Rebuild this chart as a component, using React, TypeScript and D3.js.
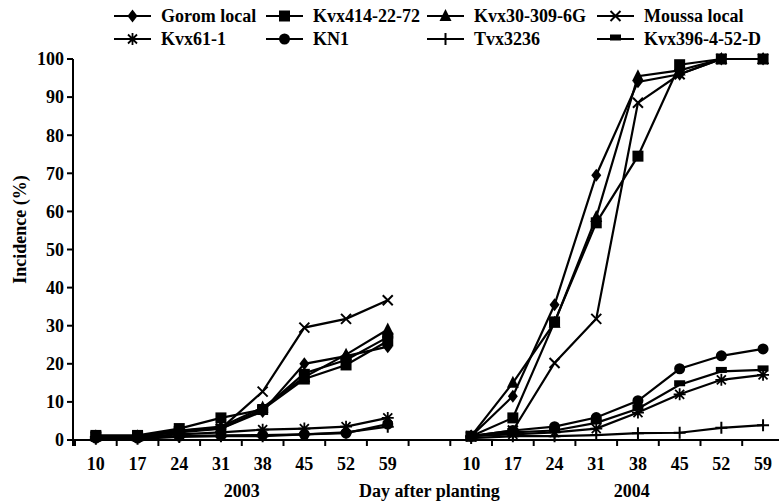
import { useEffect, useRef } from "react";
import * as d3 from "d3";

// days after planting, shown twice (2003 block, gap, 2004 block)
const days = [10, 17, 24, 31, 38, 45, 52, 59];
const years = ["2003", "2004"];
const yTicks = [0, 10, 20, 30, 40, 50, 60, 70, 80, 90, 100];

const names = [
  "Gorom local",
  "Kvx414-22-72",
  "Kvx30-309-6G",
  "Moussa local",
  "Kvx61-1",
  "KN1",
  "Tvx3236",
  "Kvx396-4-52-D",
];
const markers = ["diamond", "square", "triangle", "x", "asterisk", "circle", "plus", "dash"];

// incidence (%) per variety, 2003
const gorom2003 = [1, 1, 2.5, 3, 7.5, 20, 22, 24.5];
const kvx414_2003 = [1.2, 1.2, 3, 5.8, 8, 16, 19.7, 26];
const kvx30_2003 = [1, 1, 2.5, 3.5, 8.5, 16.5, 22.4, 29];
const moussa2003 = [1, 1, 2, 3, 12.7, 29.5, 31.8, 36.7];
const kvx61_2003 = [0.8, 0.8, 1.5, 2, 2.7, 3, 3.5, 5.8];
const kn1_2003 = [0.5, 0.5, 1, 1.2, 1.3, 1.5, 1.8, 4.2];
const tvx2003 = [0.3, 0.3, 0.8, 1, 1, 1.5, 2, 3.5];
const kvx396_2003 = [1, 1, 2.5, 3, 8, 17.5, 21, 27];

// incidence (%) per variety, 2004
const gorom2004 = [1, 11.5, 35.5, 69.5, 94, 96, 100, 100];
const kvx414_2004 = [1, 5.8, 31, 57, 74.5, 98.5, 100, 100];
const kvx30_2004 = [1, 15, 30.8, 58.5, 95.5, 97, 100, 100];
const moussa2004 = [1, 2.5, 20.2, 31.8, 88.5, 96, 100, 100];
const kvx61_2004 = [1, 1.5, 2, 3, 7.2, 12, 15.8, 17.1];
const kn1_2004 = [1, 2.5, 3.5, 5.9, 10.3, 18.7, 22.1, 23.9];
const tvx2004 = [0.5, 1, 1, 1.3, 1.8, 1.9, 3.2, 3.9];
const kvx396_2004 = [1, 2, 2.5, 4.5, 8.2, 14.5, 18, 18.4];

const values2003 = [gorom2003, kvx414_2003, kvx30_2003, moussa2003, kvx61_2003, kn1_2003, tvx2003, kvx396_2003];
const values2004 = [gorom2004, kvx414_2004, kvx30_2004, moussa2004, kvx61_2004, kn1_2004, tvx2004, kvx396_2004];

const FONT = "Times New Roman, Liberation Serif, DejaVu Serif, serif";

function drawMarker(g: d3.Selection<SVGGElement, unknown, null, undefined>, kind: string) {
  if (kind === "diamond") {
    g.append("path").attr("d", "M0,-6.5L5,0L0,6.5L-5,0Z").attr("fill", "#000");
  } else if (kind === "square") {
    g.append("rect").attr("x", -5.5).attr("y", -5.5).attr("width", 11).attr("height", 11).attr("fill", "#000");
  } else if (kind === "triangle") {
    g.append("path").attr("d", "M0,-7L6,5L-6,5Z").attr("fill", "#000");
  } else if (kind === "circle") {
    g.append("circle").attr("r", 5.5).attr("fill", "#000");
  } else if (kind === "x") {
    g.append("path").attr("d", "M-5,-5L5,5M-5,5L5,-5").attr("stroke", "#000").attr("stroke-width", 2);
  } else if (kind === "asterisk") {
    g.append("path")
      .attr("d", "M-4.5,-4.5L4.5,4.5M-4.5,4.5L4.5,-4.5M0,-6L0,6M-6,0L6,0")
      .attr("stroke", "#000")
      .attr("stroke-width", 1.8);
  } else if (kind === "plus") {
    g.append("path").attr("d", "M-6,0L6,0M0,-6L0,6").attr("stroke", "#000").attr("stroke-width", 2);
  } else if (kind === "dash") {
    g.append("rect").attr("x", -5.5).attr("y", -4.5).attr("width", 11).attr("height", 6).attr("fill", "#000");
  }
}

export default function App() {
  const svgRef = useRef<SVGSVGElement>(null);

  useEffect(() => {
    if (!svgRef.current) return;
    const svg = d3.select(svgRef.current);
    svg.selectAll("*").remove();
    svg.attr("font-family", FONT).attr("font-weight", "bold").attr("font-size", 18);

    const left = 73;
    const top = 59;
    const bottom = 440;

    // bands: 8 days of 2003, one empty band, 8 days of 2004
    const keys = [...days.map((d) => `2003-${d}`), "gap", ...days.map((d) => `2004-${d}`)];
    const xScale = d3.scaleBand().domain(keys).range([75, 75 + 41.7 * keys.length]).padding(0);
    const yScale = d3.scaleLinear().domain([0, 100]).range([bottom, top]);
    const bw = xScale.bandwidth();
    const cx = (k: string) => (xScale(k) || 0) + bw / 2;

    // Y axis
    svg.append("line")
      .attr("x1", left).attr("x2", left).attr("y1", top).attr("y2", bottom + 6)
      .attr("stroke", "#000").attr("stroke-width", 2);
    yTicks.forEach((t) => {
      svg.append("line")
        .attr("x1", left - 6).attr("x2", left).attr("y1", yScale(t)).attr("y2", yScale(t))
        .attr("stroke", "#000").attr("stroke-width", 2);
      svg.append("text")
        .attr("x", left - 9).attr("y", yScale(t)).attr("dy", "0.35em")
        .attr("text-anchor", "end")
        .text(t);
    });

    // X axis
    svg.append("line")
      .attr("x1", left - 6).attr("x2", 779).attr("y1", bottom).attr("y2", bottom)
      .attr("stroke", "#000").attr("stroke-width", 2);
    keys.forEach((k) => {
      const x = xScale(k) || 0;
      svg.append("line")
        .attr("x1", x).attr("x2", x).attr("y1", bottom).attr("y2", bottom + 6)
        .attr("stroke", "#000").attr("stroke-width", 2);
      if (k !== "gap") {
        svg.append("text")
          .attr("x", cx(k)).attr("y", 470)
          .attr("text-anchor", "middle")
          .text(k.split("-")[1]);
      }
    });

    // year labels and axis titles
    const yearX = [(xScale("2003-31") || 0) + bw, (xScale("2004-38") || 0) + bw * 0.35];
    years.forEach((yr, i) => {
      svg.append("text")
        .attr("x", yearX[i]).attr("y", 497).attr("text-anchor", "middle")
        .text(yr);
    });
    svg.append("text")
      .attr("x", cx("gap")).attr("y", 497).attr("text-anchor", "middle")
      .text("Day after planting");
    svg.append("text")
      .attr("transform", `translate(26,${(top + bottom) / 2 - 20}) rotate(-90)`)
      .attr("text-anchor", "middle")
      .text("Incidence (%)");

    // lines
    const line = d3.line<[number, number]>().x((d) => d[0]).y((d) => d[1]);
    const plot = svg.append("g");
    names.forEach((_, si) => {
      [values2003[si], values2004[si]].forEach((vals, yi) => {
        const pts: [number, number][] = vals.map((v, di) => [cx(`${years[yi]}-${days[di]}`), yScale(v)]);
        plot.append("path")
          .attr("d", line(pts))
          .attr("fill", "none").attr("stroke", "#000").attr("stroke-width", 2.2);
      });
    });
    names.forEach((_, si) => {
      [values2003[si], values2004[si]].forEach((vals, yi) => {
        vals.forEach((v, di) => {
          const g = plot.append("g")
            .attr("transform", `translate(${cx(`${years[yi]}-${days[di]}`)},${yScale(v)})`);
          drawMarker(g, markers[si]);
        });
      });
    });

    // legend
    const colX = [114, 266, 427, 597];
    const rowY = [22, 45];
    names.forEach((n, i) => {
      const x0 = colX[i % 4];
      const y0 = rowY[Math.floor(i / 4)];
      const lg = svg.append("g");
      lg.append("line")
        .attr("x1", x0).attr("x2", x0 + 37).attr("y1", y0 - 6).attr("y2", y0 - 6)
        .attr("stroke", "#000").attr("stroke-width", 2);
      drawMarker(lg.append("g").attr("transform", `translate(${x0 + 18.5},${y0 - 6})`), markers[i]);
      lg.append("text")
        .attr("x", x0 + 47).attr("y", y0)
        .text(n);
    });
  }, []);

  return (
    <svg
      ref={svgRef}
      width={779}
      height={504}
      style={{ position: "absolute", left: 0, top: 0, background: "#fff" }}
    />
  );
}
